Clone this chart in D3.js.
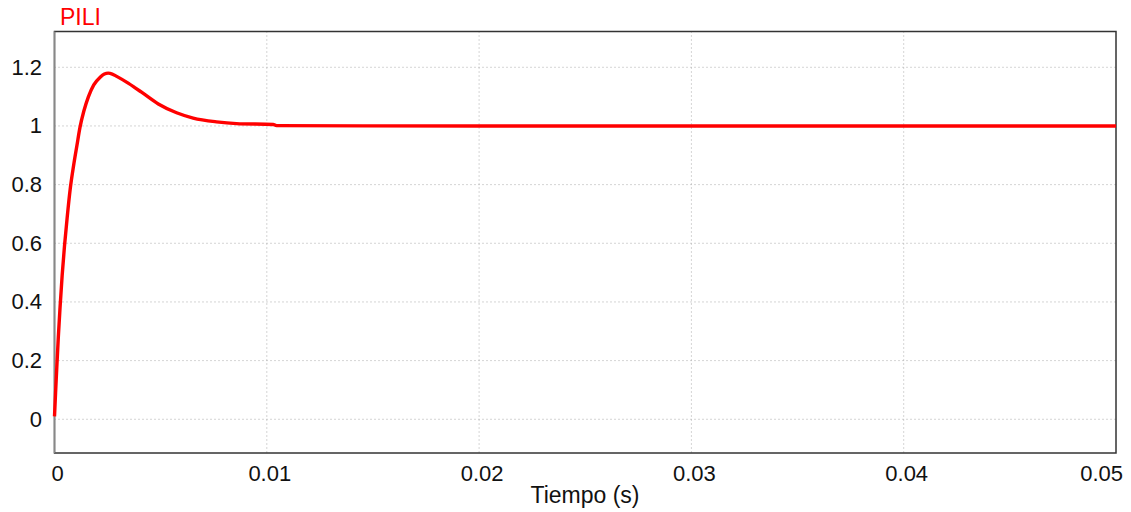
<!DOCTYPE html>
<html>
<head>
<meta charset="utf-8">
<script src="https://cdn.jsdelivr.net/npm/d3@7"></script>
<style>
  body { margin: 0; background: #fff; }
  text { font-family: "Liberation Sans", Arial, sans-serif; }
</style>
</head>
<body>
<svg id="chart" width="1131" height="512"></svg>
<script>
// time (s)
var tiempo = [0, 0.00005, 0.00011, 0.00018, 0.00026, 0.00036, 0.00047, 0.0006, 0.00074,
  0.0009, 0.00106, 0.0012, 0.00138, 0.0016, 0.00185, 0.00215, 0.00235, 0.00253, 0.00272,
  0.00293, 0.00347, 0.0038, 0.0041, 0.00489, 0.00575, 0.00653, 0.00763, 0.00857, 0.0103,
  0.01046, 0.02, 0.03, 0.04, 0.05];
// PILI values
var pili = [0.01, 0.09, 0.18, 0.28, 0.38, 0.49, 0.59, 0.69, 0.785,
  0.865, 0.935, 0.995, 1.05, 1.1, 1.14, 1.166, 1.177, 1.18, 1.177,
  1.169, 1.146, 1.13, 1.115, 1.075, 1.045, 1.027, 1.014, 1.008, 1.005,
  1.001, 1.0, 1.0, 1.0, 1.0];

var xTicks = [0, 0.01, 0.02, 0.03, 0.04, 0.05];
var yTicks = [0, 0.2, 0.4, 0.6, 0.8, 1, 1.2];

var svg = d3.select('#chart');
var pLeft = 54.5, pRight = 1116, pTop = 31.5, pBottom = 453;

var x = d3.scaleLinear().domain([0, 0.05]).range([pLeft, pRight]);
var y = d3.scaleLinear().domain([-0.115, 1.322]).range([pBottom, pTop]);

// grid
svg.append('g').selectAll('line').data(xTicks.slice(1, -1)).enter().append('line')
  .attr('x1', function(d) { return x(d); }).attr('x2', function(d) { return x(d); })
  .attr('y1', pTop).attr('y2', pBottom)
  .attr('stroke', '#aaa').attr('stroke-dasharray', '1,3');
svg.append('g').selectAll('line').data(yTicks).enter().append('line')
  .attr('x1', pLeft).attr('x2', pRight)
  .attr('y1', function(d) { return y(d); }).attr('y2', function(d) { return y(d); })
  .attr('stroke', '#aaa').attr('stroke-dasharray', '1,3');

// frame
svg.append('rect').attr('x', pLeft).attr('y', pTop)
  .attr('width', pRight - pLeft).attr('height', pBottom - pTop)
  .attr('fill', 'none').attr('stroke', '#333').attr('stroke-width', 1.5);
svg.append('line').attr('x1', pLeft).attr('x2', pLeft).attr('y1', pTop).attr('y2', pBottom)
  .attr('stroke', '#888').attr('stroke-width', 1.5);

// tick labels
svg.append('g').selectAll('text').data(yTicks).enter().append('text')
  .attr('x', 42).attr('y', function(d) { return y(d) + 7.5; })
  .attr('text-anchor', 'end').attr('font-size', 22).attr('fill', '#111')
  .text(function(d) { return d3.format('')(d); });
svg.append('g').selectAll('text').data(xTicks).enter().append('text')
  .attr('x', function(d, i) { return i === xTicks.length - 1 ? 1123 : x(d) + 3; })
  .attr('y', 481)
  .attr('text-anchor', function(d, i) { return i === xTicks.length - 1 ? 'end' : 'middle'; })
  .attr('font-size', 22).attr('fill', '#111')
  .text(function(d) { return d3.format('')(d); });

svg.append('text').attr('x', 585).attr('y', 503).attr('text-anchor', 'middle')
  .attr('font-size', 23).attr('fill', '#111').text('Tiempo (s)');
svg.append('text').attr('x', 60).attr('y', 25)
  .attr('font-size', 23).attr('fill', '#ff0000').text('PILI');

// curve
var line = d3.line()
  .x(function(d, i) { return x(tiempo[i]); })
  .y(function(d) { return y(d); })
  .curve(d3.curveMonotoneX);
svg.append('path').datum(pili)
  .attr('d', line).attr('fill', 'none')
  .attr('stroke', '#ff0000').attr('stroke-width', 3.4);
</script>
</body>
</html>
